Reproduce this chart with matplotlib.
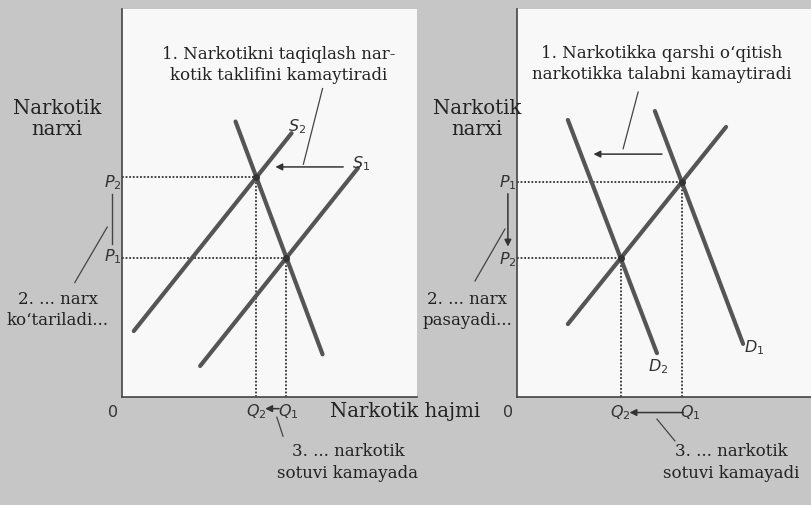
import numpy as np
import matplotlib
matplotlib.use("Agg")
import matplotlib.pyplot as plt

# left panel: supply shifts left (ban on drugs)
left_d_q = [3.85, 6.8]
left_d_p = [7.1, 1.1]
left_s1_q = [2.65, 8.0]
left_s1_p = [0.8, 5.9]
left_s2_q = [0.4, 5.75]
left_s2_p = [1.7, 6.8]

# right panel: demand shifts left (education)
right_s_q = [1.73, 7.11]
right_s_p = [1.88, 6.96]
right_d1_q = [4.69, 7.69]
right_d1_p = [7.37, 1.37]
right_d2_q = [1.73, 4.76]
right_d2_p = [7.14, 1.13]

left_title = "1. Narkotikni taqiqlash nar-\nkotik taklifini kamaytiradi"
right_title = "1. Narkotikka qarshi o\u2018qitish\nnarkotikka talabni kamaytiradi"
y_label = "Narkotik\nnarxi"
x_label = "Narkotik hajmi"
left_note2 = "2. ... narx\nko\u2018tariladi..."
right_note2 = "2. ... narx\npasayadi..."
left_note3 = "3. ... narkotik\nsotuvi kamayada"
right_note3 = "3. ... narkotik\nsotuvi kamayadi"

BG = "#c6c6c6"
LINE = "#555555"
TXT = "#222222"
SERIF = "DejaVu Serif"


def intersect(q1, p1, q2, p2):
    a1 = (p1[1] - p1[0]) / (q1[1] - q1[0])
    a2 = (p2[1] - p2[0]) / (q2[1] - q2[0])
    b1 = p1[0] - a1 * q1[0]
    b2 = p2[0] - a2 * q2[0]
    q = (b2 - b1) / (a1 - a2)
    return q, a1 * q + b1


def setup(ax):
    ax.set_xlim(0, 10)
    ax.set_ylim(0, 10)
    ax.set_facecolor("#f8f8f8")
    for s in ["top", "right"]:
        ax.spines[s].set_visible(False)
    for s in ["left", "bottom"]:
        ax.spines[s].set_color("#444444")
        ax.spines[s].set_linewidth(1.2)
    ax.set_xticks([])
    ax.set_yticks([])


def curve(ax, q, p):
    ax.plot(q, p, color=LINE, lw=3, solid_capstyle="round", zorder=3)


def guides(ax, q, p):
    ax.plot([0, q], [p, p], color="#333333", lw=1.3, ls=(0, (1, 1)), zorder=2)
    ax.plot([q, q], [0, p], color="#333333", lw=1.3, ls=(0, (1, 1)), zorder=2)
    ax.plot([q], [p], "o", color="#333333", ms=4, zorder=4)


def txt(ax, x, y, s, size=12, ls=1.32):
    ax.text(x, y, s, fontsize=size, family=SERIF, color=TXT, ha="center",
            va="center", linespacing=ls, clip_on=False)


def lab(ax, x, y, s):
    ax.text(x, y, s, fontsize=11.5, color="#333333", ha="center", va="center",
            clip_on=False)


def arrow(ax, x0, y0, x1, y1):
    ax.annotate("", xy=(x1, y1), xytext=(x0, y0),
                arrowprops=dict(arrowstyle="-|>", color="#333333", lw=1.1,
                                mutation_scale=10, shrinkA=0, shrinkB=0),
                annotation_clip=False)


def leader(ax, x0, y0, x1, y1):
    ax.plot([x0, x1], [y0, y1], color="#444444", lw=0.9, clip_on=False)


fig = plt.figure(figsize=(8.11, 5.06), dpi=100)
fig.patch.set_facecolor(BG)

axl = fig.add_axes([0.1504, 0.2134, 0.3637, 0.7668])
axr = fig.add_axes([0.6375, 0.2134, 0.3625, 0.7668])
setup(axl)
setup(axr)

# ---- left panel ----
curve(axl, left_d_q, left_d_p)
curve(axl, left_s1_q, left_s1_p)
curve(axl, left_s2_q, left_s2_p)
q1, p1 = intersect(left_d_q, left_d_p, left_s1_q, left_s1_p)
q2, p2 = intersect(left_d_q, left_d_p, left_s2_q, left_s2_p)
guides(axl, q1, p1)
guides(axl, q2, p2)

lab(axl, 5.95, 7.0, "$S_2$")
lab(axl, 8.1, 6.05, "$S_1$")
lab(axl, -0.31, p2 - 0.1, "$P_2$")
lab(axl, -0.31, p1 + 0.05, "$P_1$")
lab(axl, -0.31, -0.38, "0")
lab(axl, q2, -0.34, "$Q_2$")
lab(axl, q1 + 0.05, -0.34, "$Q_1$")
arrow(axl, q1 - 0.25, -0.3, q2 + 0.3, -0.3)
arrow(axl, 7.5, 5.93, 5.2, 5.93)
leader(axl, 6.8, 7.95, 6.15, 6.0)
axl.plot([-0.34, -0.34], [5.23, 3.94], color="#444444", lw=1.0, clip_on=False)
leader(axl, -1.6, 2.95, -0.5, 4.38)
leader(axl, 5.25, -0.52, 5.46, -1.01)

txt(axl, 5.3, 8.58, left_title)
txt(axl, -2.2, 7.2, y_label, size=14.2, ls=1.12)
txt(axl, -2.17, 2.26, left_note2)
axl.text(7.05, -0.34, x_label, fontsize=14.2, family=SERIF, color=TXT,
         ha="left", va="center", clip_on=False)
txt(axl, 7.66, -1.66, left_note3)

# ---- right panel ----
curve(axr, right_s_q, right_s_p)
curve(axr, right_d1_q, right_d1_p)
curve(axr, right_d2_q, right_d2_p)
rq1, rp1 = intersect(right_s_q, right_s_p, right_d1_q, right_d1_p)
rq2, rp2 = intersect(right_s_q, right_s_p, right_d2_q, right_d2_p)
guides(axr, rq1, rp1)
guides(axr, rq2, rp2)

lab(axr, 4.8, 0.8, "$D_2$")
lab(axr, 8.05, 1.3, "$D_1$")
lab(axr, -0.31, rp1, "$P_1$")
lab(axr, -0.31, rp2, "$P_2$")
lab(axr, -0.31, -0.38, "0")
lab(axr, rq2, -0.38, "$Q_2$")
lab(axr, rq1 + 0.3, -0.38, "$Q_1$")
arrow(axr, rq1 + 0.05, -0.4, rq2 + 0.3, -0.4)
arrow(axr, -0.31, rp1 - 0.3, -0.31, rp2 + 0.3)
arrow(axr, 4.93, 6.26, 2.6, 6.26)
leader(axr, 4.12, 7.86, 3.61, 6.4)
leader(axr, -0.41, 4.33, -1.43, 2.99)
leader(axr, 4.76, -0.57, 5.37, -1.13)

txt(axr, 4.93, 8.61, right_title)
txt(axr, -1.36, 7.2, y_label, size=14.2, ls=1.12)
txt(axr, -1.7, 2.26, right_note2)
txt(axr, 7.28, -1.66, right_note3)

fig.savefig("out.png", dpi=100, facecolor=BG)
